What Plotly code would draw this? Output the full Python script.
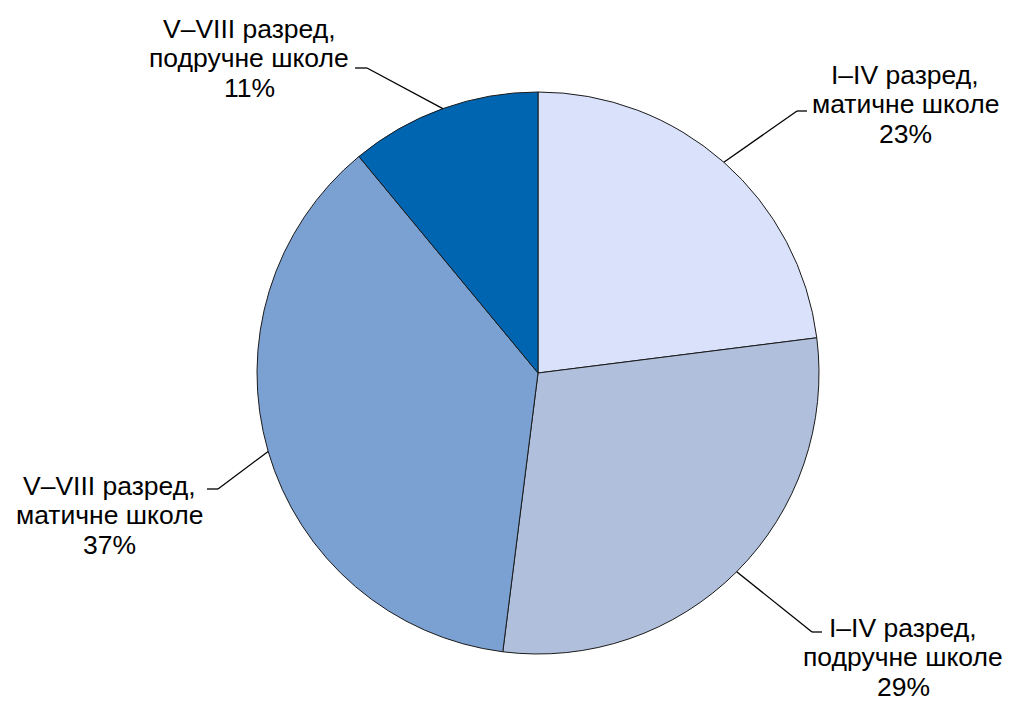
import math
import plotly.graph_objects as go

# ---- data ----
categories = ["I–IV разред,<br>матичне школе",
              "I–IV разред,<br>подручне школе",
              "V–VIII разред,<br>матичне школе",
              "V–VIII разред,<br>подручне школе"]
values = [23, 29, 37, 11]
colors = ["#D9E1FB", "#B0C0DC", "#7BA1D3", "#0065B1"]

# ---- layout constants (pixels) ----
W, H = 1011, 708
CX, CY, R = 538, 373, 281
LINE_H = 29.5
# label block centres and leader-line knee / label-end points
label_pos = [(905, 104), (903, 657), (109, 515), (249, 58)]
knees = [((797, 111), (807, 111)),
         ((812, 632), (822, 632)),
         ((218, 489), (207, 489)),
         ((367, 68), (355, 68))]

fig = go.Figure(go.Pie(
    values=values,
    labels=categories,
    sort=False,
    direction="clockwise",
    rotation=0,
    textinfo="none",
    hoverinfo="label+percent",
    marker=dict(colors=colors, line=dict(color="#1a1a1a", width=1)),
    domain=dict(x=[(CX - R) / W, (CX + R) / W],
                y=[1 - (CY + R) / H, 1 - (CY - R) / H]),
    showlegend=False,
))

def px(x, y):
    return x / W, 1 - y / H

total = sum(values)
cum = 0
shapes = []
annotations = []
for i, v in enumerate(values):
    mid = (cum + v / 2) / total * 2 * math.pi
    cum += v
    ex = CX + R * math.sin(mid)
    ey = CY - R * math.cos(mid)
    (kx, ky), (tx, ty) = knees[i]
    for (x0, y0), (x1, y1) in [((ex, ey), (kx, ky)), ((kx, ky), (tx, ty))]:
        a0 = px(x0, y0)
        a1 = px(x1, y1)
        shapes.append(dict(type="line", xref="paper", yref="paper",
                           x0=a0[0], y0=a0[1], x1=a1[0], y1=a1[1],
                           line=dict(color="#000000", width=1.3)))
    pct = round(v / total * 100)
    lines = categories[i].split("<br>") + [f"{pct}%"]
    cx, cy = label_pos[i]
    for k, t in enumerate(lines):
        lx, ly = px(cx, cy + (k - 1) * LINE_H)
        annotations.append(dict(
            x=lx, y=ly, xref="paper", yref="paper",
            xanchor="center", yanchor="middle", showarrow=False,
            text=t,
            font=dict(family="Liberation Sans, Arial, sans-serif", size=26.5, color="#000000"),
            align="center",
        ))

fig.update_layout(
    width=W, height=H,
    margin=dict(l=0, r=0, t=0, b=0),
    paper_bgcolor="white",
    plot_bgcolor="white",
    shapes=shapes,
    annotations=annotations,
)

fig.write_html("out.html", config={"displayModeBar": False},
               post_script="document.body.style.margin='0';")
